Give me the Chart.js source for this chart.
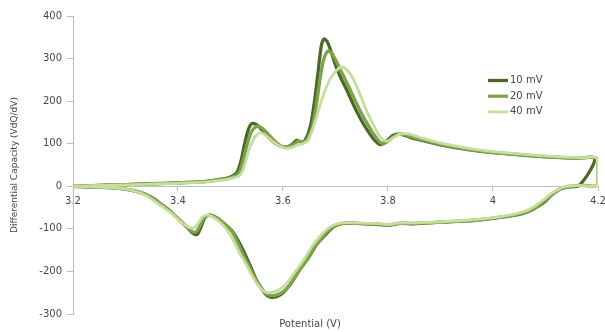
<!DOCTYPE html>
<html>
<head>
<meta charset="utf-8">
<script src="https://cdn.jsdelivr.net/npm/chart.js@4.4.1/dist/chart.umd.min.js"></script>
<style>
  html, body { margin: 0; padding: 0; background: #ffffff; overflow: hidden; }
  #wrap { width: 605px; height: 332px; }
</style>
</head>
<body>
<div id="wrap"><canvas id="dqdv" width="605" height="332"></canvas></div>
<script>
// Differential capacity loops (charge then discharge) at three sweep rates.
const seriesLabels = ['10 mV', '20 mV', '40 mV'];

const potential10 = [3.20, 3.25, 3.30, 3.35, 3.40, 3.45, 3.48, 3.50, 3.512, 3.520, 3.527, 3.533, 3.540, 3.548, 3.556, 3.570, 3.582, 3.595, 3.607, 3.617, 3.626, 3.634, 3.642, 3.652, 3.660, 3.667, 3.673, 3.678, 3.684, 3.692, 3.700, 3.710, 3.722, 3.734, 3.747, 3.759, 3.772, 3.785, 3.797, 3.810, 3.825, 3.842, 3.870, 3.900, 3.930, 3.960, 4.000, 4.040, 4.080, 4.120, 4.160, 4.194,
  4.165, 4.140, 4.125, 4.110, 4.100, 4.085, 4.070, 4.050, 4.020, 3.980, 3.940, 3.893, 3.850, 3.823, 3.800, 3.785, 3.760, 3.740, 3.715, 3.700, 3.690, 3.680, 3.664, 3.650, 3.632, 3.613, 3.600, 3.590, 3.578, 3.568, 3.558, 3.550, 3.537, 3.524, 3.505, 3.490, 3.475, 3.462, 3.452, 3.444, 3.437, 3.430, 3.420, 3.410, 3.395, 3.385, 3.370, 3.347, 3.320, 3.290, 3.250, 3.200];
const capacity10 = [0, 2, 4, 6, 8, 11, 16, 22, 32, 60, 100, 130, 147, 146, 138, 118, 104, 94, 92, 98, 108, 104, 108, 140, 200, 270, 330, 346, 340, 315, 285, 255, 225, 192, 160, 135, 112, 98, 106, 120, 122, 115, 106, 97, 90, 85, 79, 75, 71, 68, 66, 65,
  3, -2, -8, -22, -35, -48, -58, -66, -72, -78, -82, -85, -88, -87, -92, -90, -88, -87, -87, -93, -102, -115, -137, -165, -195, -232, -250, -258, -261, -255, -238, -222, -185, -150, -108, -90, -75, -68, -72, -95, -113, -112, -100, -88, -70, -58, -44, -24, -12, -5, -2, 0];

const potential20 = [3.20, 3.25, 3.30, 3.35, 3.40, 3.45, 3.48, 3.50, 3.515, 3.523, 3.531, 3.540, 3.550, 3.558, 3.566, 3.578, 3.590, 3.602, 3.612, 3.622, 3.630, 3.638, 3.646, 3.656, 3.664, 3.671, 3.678, 3.686, 3.694, 3.703, 3.714, 3.726, 3.738, 3.751, 3.764, 3.777, 3.790, 3.802, 3.815, 3.830, 3.848, 3.875, 3.905, 3.935, 3.965, 4.005, 4.045, 4.085, 4.125, 4.165, 4.198,
  4.200, 4.170, 4.140, 4.125, 4.112, 4.100, 4.086, 4.070, 4.050, 4.020, 3.980, 3.940, 3.893, 3.850, 3.823, 3.800, 3.785, 3.760, 3.740, 3.715, 3.700, 3.688, 3.676, 3.662, 3.647, 3.630, 3.611, 3.598, 3.585, 3.573, 3.563, 3.553, 3.545, 3.533, 3.520, 3.503, 3.488, 3.473, 3.461, 3.450, 3.442, 3.435, 3.428, 3.418, 3.408, 3.393, 3.383, 3.368, 3.345, 3.318, 3.288, 3.250, 3.200];
const capacity20 = [0, 2, 4, 6, 8, 11, 15, 20, 30, 55, 95, 128, 141, 138, 130, 114, 100, 92, 93, 100, 106, 104, 110, 140, 195, 255, 300, 318, 310, 290, 262, 232, 200, 168, 140, 115, 100, 108, 120, 122, 115, 106, 97, 90, 85, 79, 75, 71, 68, 66, 65,
  4, 2, -1, -8, -20, -33, -46, -57, -65, -72, -78, -82, -85, -87, -87, -91, -89, -88, -87, -87, -92, -102, -117, -140, -170, -200, -235, -250, -256, -256, -247, -228, -212, -182, -150, -106, -88, -74, -68, -73, -92, -107, -107, -96, -85, -68, -57, -43, -23, -11, -5, -2, 0];

const potential40 = [3.20, 3.25, 3.30, 3.35, 3.40, 3.45, 3.48, 3.50, 3.518, 3.527, 3.535, 3.543, 3.551, 3.558, 3.566, 3.578, 3.590, 3.602, 3.614, 3.626, 3.638, 3.648, 3.658, 3.668, 3.678, 3.688, 3.699, 3.710, 3.720, 3.730, 3.740, 3.750, 3.762, 3.774, 3.786, 3.798, 3.810, 3.822, 3.838, 3.855, 3.880, 3.910, 3.940, 3.970, 4.010, 4.050, 4.090, 4.130, 4.170, 4.198,
  4.200, 4.165, 4.138, 4.123, 4.110, 4.098, 4.083, 4.066, 4.045, 4.015, 3.975, 3.935, 3.890, 3.850, 3.823, 3.800, 3.785, 3.760, 3.740, 3.712, 3.697, 3.684, 3.670, 3.655, 3.640, 3.622, 3.604, 3.590, 3.575, 3.563, 3.553, 3.543, 3.532, 3.518, 3.500, 3.485, 3.470, 3.458, 3.447, 3.438, 3.430, 3.422, 3.412, 3.402, 3.390, 3.378, 3.362, 3.340, 3.314, 3.285, 3.250, 3.200];
const capacity40 = [0, 2, 3, 5, 7, 10, 14, 18, 26, 50, 85, 108, 122, 126, 120, 108, 97, 90, 90, 96, 100, 108, 140, 180, 218, 248, 268, 280, 276, 260, 236, 205, 170, 140, 115, 106, 114, 122, 123, 117, 108, 99, 92, 86, 80, 76, 72, 69, 67, 66,
  4, 2, -1, -8, -18, -30, -44, -56, -64, -71, -77, -81, -84, -86, -86, -90, -88, -87, -86, -86, -91, -101, -118, -142, -172, -203, -232, -245, -250, -247, -233, -214, -188, -158, -115, -90, -75, -68, -72, -88, -98, -97, -90, -80, -66, -54, -41, -22, -10, -4, -2, 0];

// Axis ticks and captions
const potentialTicks = [3.2, 3.4, 3.6, 3.8, 4.0, 4.2];
const potentialTickLabels = ['3.2', '3.4', '3.6', '3.8', '4', '4.2'];
const capacityTicks = [-300, -200, -100, 0, 100, 200, 300, 400];
const xCaption = 'Potential (V)';
const yCaption = 'Differential Capacity (VdQ/dV)';

const seriesColors = ['#4a682a', '#7ea449', '#c6dd9b'];
const seriesWidths = [3.3, 3.3, 2.8];

const toPoints = (xs, ys) => xs.map((x, i) => ({ x: x, y: ys[i] }));
const curves = [
  toPoints(potential10, capacity10),
  toPoints(potential20, capacity20),
  toPoints(potential40, capacity40)
];

const textColor = '#474747';
const axisColor = '#bdbdbd';
const font = { family: '"DejaVu Sans", sans-serif', size: 10 };

// Legend entries and the horizontal axis caption
const legendAndCaption = {
  id: 'legendAndCaption',
  afterDraw(chart) {
    const ctx = chart.ctx;
    ctx.save();
    ctx.font = '10px "DejaVu Sans", sans-serif';
    ctx.fillStyle = textColor;
    ctx.textBaseline = 'middle';
    ctx.textAlign = 'left';
    chart.data.datasets.forEach((ds, i) => {
      const y = 80.5 + i * 15.7;
      ctx.strokeStyle = ds.borderColor;
      ctx.lineWidth = ds.borderWidth;
      ctx.beginPath();
      ctx.moveTo(488, y);
      ctx.lineTo(508, y);
      ctx.stroke();
      ctx.fillText(ds.label, 510, y);
    });
    ctx.textAlign = 'center';
    ctx.fillText(xCaption, 310, 324);
    ctx.restore();
  }
};

new Chart(document.getElementById('dqdv'), {
  type: 'scatter',
  data: {
    datasets: curves.map((pts, i) => ({
      label: seriesLabels[i],
      data: pts,
      showLine: true,
      fill: false,
      borderColor: seriesColors[i],
      backgroundColor: seriesColors[i],
      borderWidth: seriesWidths[i],
      pointRadius: 0,
      pointHoverRadius: 0,
      tension: 0.3,
      borderJoinStyle: 'round',
      borderCapStyle: 'round',
      order: 2 - i
    }))
  },
  options: {
    responsive: false,
    animation: false,
    events: [],
    layout: { padding: { top: 16, right: 7, bottom: 18, left: 0 } },
    plugins: {
      legend: { display: false },
      tooltip: { enabled: false },
      title: { display: false }
    },
    scales: {
      x: {
        type: 'linear',
        position: { y: 0 },
        min: 3.2,
        max: 4.2,
        afterBuildTicks: s => { s.ticks = potentialTicks.map(v => ({ value: v })); },
        afterFit: s => { s.paddingLeft = 0; s.paddingRight = 0; },
        ticks: {
          autoSkip: false,
          maxRotation: 0,
          color: textColor,
          font: font,
          padding: 5,
          callback: (v, i) => potentialTickLabels[i]
        },
        grid: { display: true, drawOnChartArea: false, drawTicks: true, tickLength: 4, color: axisColor },
        border: { display: true, color: axisColor, width: 1 }
      },
      y: {
        type: 'linear',
        position: 'left',
        min: -300,
        max: 400,
        afterBuildTicks: s => { s.ticks = capacityTicks.map(v => ({ value: v })); },
        afterFit: s => { s.width = 73; },
        ticks: { color: textColor, font: font, padding: 5 },
        grid: { display: true, drawOnChartArea: false, drawTicks: true, tickLength: 6, color: axisColor },
        border: { display: true, color: axisColor, width: 1 },
        title: {
          display: true,
          text: yCaption,
          color: textColor,
          font: { family: '"DejaVu Sans", sans-serif', size: 9 },
          padding: { top: 9, bottom: 0 }
        }
      }
    }
  },
  plugins: [legendAndCaption]
});
</script>
</body>
</html>
